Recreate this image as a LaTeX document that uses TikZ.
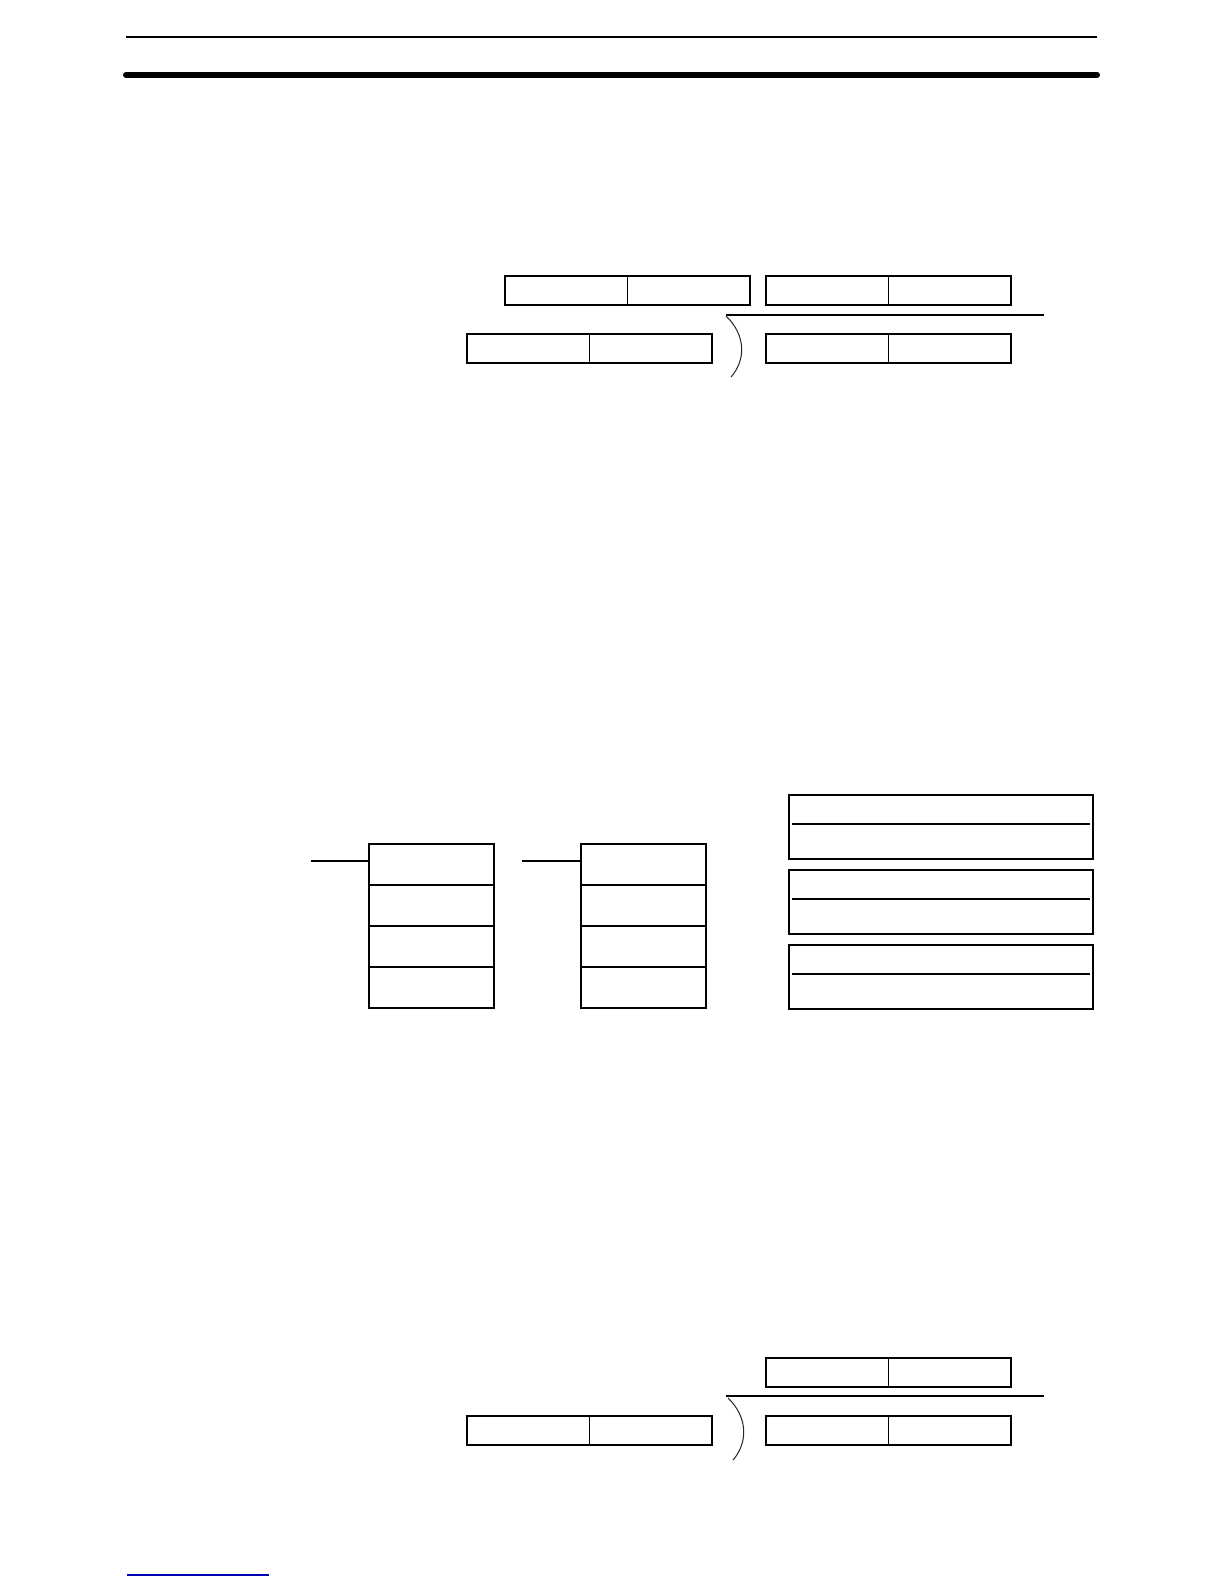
\documentclass[tikz,border=0pt]{standalone}
\usetikzlibrary{positioning}
\begin{document}
\begin{tikzpicture}[x=0.5pt,y=-0.5pt]
    \tikzstyle{cell}=[rectangle,draw,line width=0.7pt,inner sep=0pt,outer sep=0pt,minimum width=61.25pt,minimum height=14.5pt];
    \tikzstyle{word}=[rectangle,draw,line width=1.3pt,inner sep=0pt,outer sep=0pt,minimum width=62.5pt,minimum height=20.5pt];
    \tikzstyle{frame}=[rectangle,draw,line width=1.3pt,inner sep=0pt,outer sep=0pt,minimum width=152pt,minimum height=32pt];
    \tikzstyle{bar}=[line width=0.7pt];
    \tikzstyle{bracket}=[line width=0.5pt,black!85];

    \useasboundingbox[fill=white] (0,0) rectangle (1224,1584);

    % page header
    \coordinate (hdl) at (126,37);
    \coordinate (hdr) at (1097,37);
    \coordinate (hdbl) at (126,75);
    \coordinate (hdbr) at (1097,75);
    \draw[line width=1.3pt] (hdl) -- (hdr);
    \draw[line width=3pt,line cap=round] (hdbl) -- (hdbr);

    % upper division
    \node[cell,anchor=north west] (rem1) at (505,276) {};
    \node[cell,right=0pt of rem1] (rem2) {};
    \node[cell,anchor=north west] (quo1) at (766,276) {};
    \node[cell,right=0pt of quo1] (quo2) {};
    \node[cell,anchor=north west] (dvs1) at (467,334) {};
    \node[cell,right=0pt of dvs1] (dvs2) {};
    \node[cell,anchor=north west] (dvd1) at (766,334) {};
    \node[cell,right=0pt of dvd1] (dvd2) {};
    \coordinate (divA) at (726,315);
    \coordinate (divB) at (1044,315);
    \coordinate (curA) at (731,377);
    \draw[bar] (divA) -- (divB);
    \draw[bracket] ([yshift=-0.5pt]divA) .. controls (746,335) and (746,360) .. (curA);

    % word stacks
    \node[word,anchor=north west] (stkA1) at (369,844) {};
    \node[word,below=0pt of stkA1] (stkA2) {};
    \node[word,below=0pt of stkA2] (stkA3) {};
    \node[word,below=0pt of stkA3] (stkA4) {};
    \node[word,anchor=north west] (stkB1) at (581,844) {};
    \node[word,below=0pt of stkB1] (stkB2) {};
    \node[word,below=0pt of stkB2] (stkB3) {};
    \node[word,below=0pt of stkB3] (stkB4) {};
    \coordinate (inA) at (311,861);
    \coordinate (inB) at (522,861);
    \draw[line width=0.7pt] (inA) -- (inA -| stkA1.west);
    \draw[line width=0.7pt] (inB) -- (inB -| stkB1.west);

    \node[frame,anchor=north west] (frmA) at (789,795) {};
    \node[frame,below=5.5pt of frmA] (frmB) {};
    \node[frame,below=5.5pt of frmB] (frmC) {};
    \draw[line width=1.3pt] ([xshift=1.5pt,yshift=-14.5pt]frmA.north west) -- ([xshift=-1.5pt,yshift=-14.5pt]frmA.north east);
    \draw[line width=1.3pt] ([xshift=1.5pt,yshift=-14.5pt]frmB.north west) -- ([xshift=-1.5pt,yshift=-14.5pt]frmB.north east);
    \draw[line width=1.3pt] ([xshift=1.5pt,yshift=-14.5pt]frmC.north west) -- ([xshift=-1.5pt,yshift=-14.5pt]frmC.north east);

    % lower division
    \node[cell,anchor=north west] (lquo1) at (766,1358) {};
    \node[cell,right=0pt of lquo1] (lquo2) {};
    \node[cell,anchor=north west] (ldvs1) at (467,1416) {};
    \node[cell,right=0pt of ldvs1] (ldvs2) {};
    \node[cell,anchor=north west] (ldvd1) at (766,1416) {};
    \node[cell,right=0pt of ldvd1] (ldvd2) {};
    \coordinate (ldivA) at (726,1396);
    \coordinate (ldivB) at (1044,1396);
    \coordinate (lcurA) at (733,1460);
    \draw[bar] (ldivA) -- (ldivB);
    \draw[bracket] (728,1398) .. controls (748,1417) and (748,1443) .. (lcurA);

    % footer link
    \coordinate (ftl) at (127,1575);
    \coordinate (ftr) at (269,1575);
    \draw[line width=0.8pt,blue!70!black] (ftl) -- (ftr);
\end{tikzpicture}
\end{document}
